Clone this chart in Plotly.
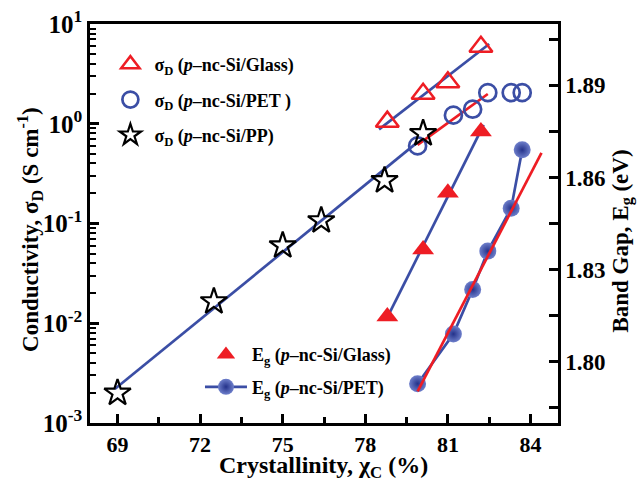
import numpy as np
import plotly.graph_objects as go

# ---- data ----
pp_x = [69.0, 72.5, 75.0, 76.4, 78.7, 80.1]
pp_sigma = [0.0020, 0.0165, 0.060, 0.107, 0.27, 0.80]

pet_x = [79.9, 81.2, 81.9, 82.45, 83.3, 83.7]
pet_sigma = [0.60, 1.22, 1.40, 2.05, 2.05, 2.05]
pet_eg = [1.7928, 1.809, 1.8235, 1.836, 1.850, 1.869]

glass_x = [78.8, 80.1, 81.0, 82.2]
glass_sigma = [1.05, 2.0, 2.6, 5.9]
glass_eg = [1.8147, 1.8365, 1.855, 1.875]

# fit line extents (x)
pp_fit_range = [68.9, 79.9]
glass_sigma_fit_range = [78.5, 82.5]
pet_sigma_fit_range = [79.9, 82.45]
glass_eg_fit_range = [78.8, 82.3]
pet_eg_fit_range = [79.9, 84.4]

x_title = "Crystallinity, χ<sub>C</sub> (%)"
y_title = "Conductivity, σ<sub>D</sub> (S cm<sup>-1</sup>)"
y2_title = "Band Gap, E<sub>g</sub> (eV)"

RED = "#EE1D24"
BLUE = "#3B4EA5"
FONT = "Liberation Serif"


def logfit(x, y, rng):
    k, b = np.polyfit(np.array(x), np.log10(np.array(y)), 1)
    xs = np.array(rng)
    return xs, 10 ** (k * xs + b)


def linfit(x, y, rng):
    k, b = np.polyfit(np.array(x), np.array(y), 1)
    xs = np.array(rng)
    return xs, k * xs + b


fig = go.Figure()

# fit lines (left axis)
xs, ys = logfit(pp_x, pp_sigma, pp_fit_range)
fig.add_trace(go.Scatter(x=xs, y=ys, mode="lines", line=dict(color=BLUE, width=2.7), showlegend=False))
xs, ys = logfit(glass_x, glass_sigma, glass_sigma_fit_range)
fig.add_trace(go.Scatter(x=xs, y=ys, mode="lines", line=dict(color=BLUE, width=2.7), showlegend=False))
xs, ys = logfit(pet_x[:4], pet_sigma[:4], pet_sigma_fit_range)
fig.add_trace(go.Scatter(x=xs, y=ys, mode="lines", line=dict(color=RED, width=2.7), showlegend=False))

# conductivity markers
fig.add_trace(go.Scatter(
    x=glass_x, y=glass_sigma, mode="markers",
    name="σ<sub>D</sub> (<i>p</i>–nc-Si/Glass)", legendgroup="a", legend="legend",
    marker=dict(symbol="triangle-up-open", size=20, color=RED, line=dict(width=2.5, color=RED))))
fig.add_trace(go.Scatter(
    x=pet_x, y=pet_sigma, mode="markers",
    name="σ<sub>D</sub> (<i>p</i>–nc-Si/PET )", legendgroup="b", legend="legend",
    marker=dict(symbol="circle-open", size=17, color=BLUE, line=dict(width=2.7, color=BLUE))))
fig.add_trace(go.Scatter(
    x=pp_x, y=pp_sigma, mode="markers",
    name="σ<sub>D</sub> (<i>p</i>–nc-Si/PP)", legendgroup="c", legend="legend",
    marker=dict(symbol="star-open", size=20, color="black", line=dict(width=2.2, color="black"))))

# band gap (right axis)
xs, ys = linfit(glass_x, glass_eg, glass_eg_fit_range)
fig.add_trace(go.Scatter(x=xs, y=ys, mode="lines", yaxis="y2", line=dict(color=BLUE, width=2.7), showlegend=False))
fig.add_trace(go.Scatter(
    x=glass_x, y=glass_eg, mode="markers", yaxis="y2",
    name="E<sub>g</sub> (<i>p</i>–nc-Si/Glass)", legendgroup="d", legend="legend2",
    marker=dict(symbol="triangle-up", size=19, color=RED)))
fig.add_trace(go.Scatter(
    x=pet_x, y=pet_eg, mode="lines+markers", yaxis="y2",
    name="E<sub>g</sub> (<i>p</i>–nc-Si/PET)", legendgroup="e", legend="legend2",
    line=dict(color=BLUE, width=2.7),
    marker=dict(symbol="circle", size=17, color="#6E7FCB",
                gradient=dict(type="radial", color="#24328A"), line=dict(width=0))))
xs, ys = linfit(pet_x[:5], pet_eg[:5], pet_eg_fit_range)
fig.add_trace(go.Scatter(x=xs, y=ys, mode="lines", yaxis="y2", line=dict(color=RED, width=2.7), showlegend=False))

axis_common = dict(
    showline=True, linecolor="black", linewidth=2.5, automargin=False,
    ticks="inside", tickcolor="black", tickwidth=2.5, ticklen=9,
    showgrid=False, zeroline=False,
)

log_minor_vals = [m * 10.0 ** e for e in range(-3, 1) for m in range(2, 10)]

title_font = dict(family=FONT, size=23, color="black", weight="bold")

fig.update_layout(
    width=638, height=483,
    margin=dict(l=90, r=80, t=24, b=60),
    paper_bgcolor="white", plot_bgcolor="white",
    font=dict(family=FONT, color="black"),
    hovermode=False,
    xaxis=dict(
        **axis_common, range=[68, 85], tick0=69, dtick=3, mirror=True,
        tickfont=dict(family=FONT, size=22, color="black", weight="bold"),
        minor=dict(ticks="inside", dtick=1.5, tick0=69, ticklen=6, tickwidth=2.5, tickcolor="black"),
    ),
    yaxis=dict(
        **axis_common, type="log", range=[-3, 1],
        tickvals=[0.001, 0.01, 0.1, 1, 10],
        ticktext=["10<sup>-3</sup>", "10<sup>-2</sup>", "10<sup>-1</sup>", "10<sup>0</sup>", "10<sup>1</sup>"],
        tickfont=dict(family=FONT, size=25, color="black", weight="bold"),
        minor=dict(ticks="inside", tickvals=log_minor_vals, ticklen=6, tickwidth=2, tickcolor="black", showgrid=False),
    ),
    yaxis2=dict(
        **axis_common, overlaying="y", side="right", range=[1.78, 1.91],
        tick0=1.80, dtick=0.03, tickformat=".2f",
        tickfont=dict(family=FONT, size=23, color="black", weight="bold"),
        minor=dict(ticks="inside", dtick=0.015, tick0=1.785, ticklen=9, tickwidth=2.5, tickcolor="black"),
    ),
    legend=dict(
        x=0.035, y=0.945, xanchor="left", yanchor="top",
        bgcolor="rgba(0,0,0,0)", tracegroupgap=9, itemwidth=38,
        font=dict(family=FONT, size=18, color="black", weight="bold"),
    ),
    legend2=dict(
        x=0.235, y=0.2175, xanchor="left", yanchor="top",
        bgcolor="rgba(0,0,0,0)", tracegroupgap=6, itemwidth=42,
        font=dict(family=FONT, size=18, color="black", weight="bold"),
    ),
    annotations=[
        dict(text=x_title, xref="paper", yref="paper", x=0.498, y=-0.111,
             xanchor="center", yanchor="middle", showarrow=False,
             font=dict(family=FONT, size=24, color="black", weight="bold")),
        dict(text=y_title, xref="paper", yref="paper", x=-0.128, y=0.484,
             xanchor="center", yanchor="middle", showarrow=False, textangle=-90,
             font=title_font),
        dict(text=y2_title, xref="paper", yref="paper", x=1.137, y=0.455,
             xanchor="center", yanchor="middle", showarrow=False, textangle=-90,
             font=title_font),
    ],
)

fig.write_html("out.html", config={"displayModeBar": False},
               post_script="document.body.style.margin='0px';")
